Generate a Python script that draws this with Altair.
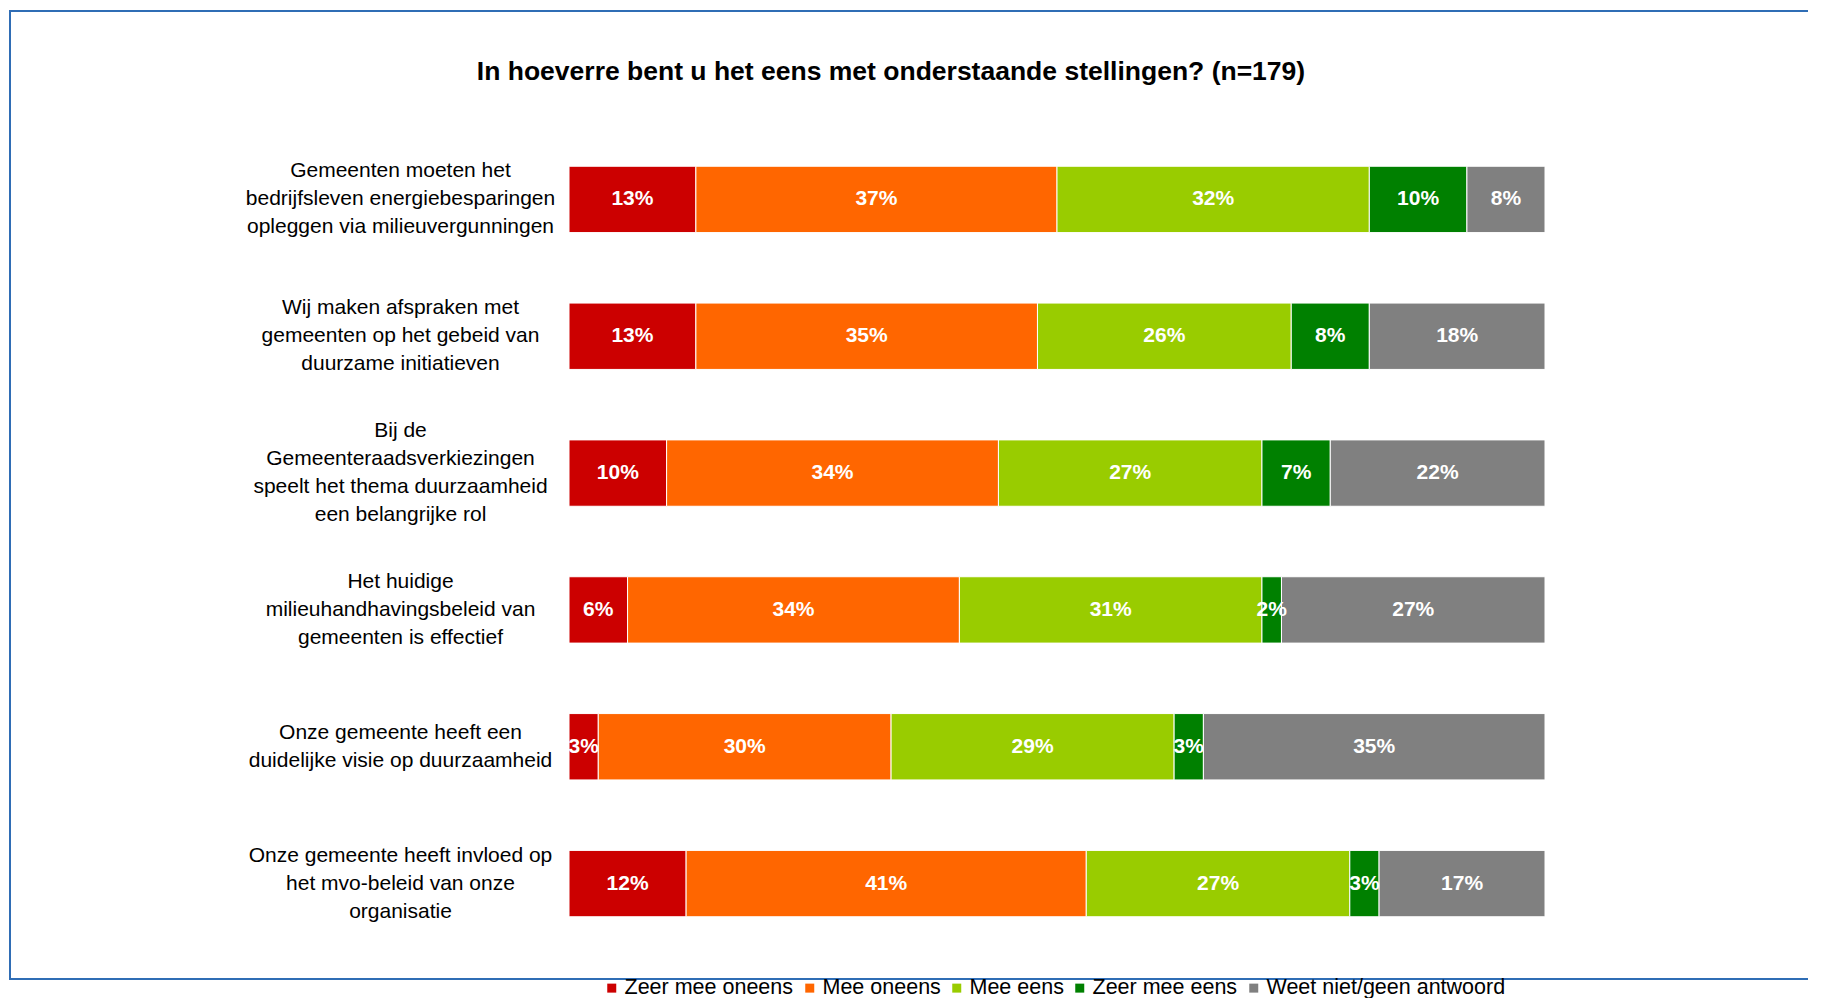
import altair as alt
import pandas as pd

# ---- data ----
statements = [
    "Gemeenten moeten het|bedrijfsleven energiebesparingen|opleggen via milieuvergunningen",
    "Wij maken afspraken met|gemeenten op het gebeid van|duurzame initiatieven",
    "Bij de|Gemeenteraadsverkiezingen|speelt het thema duurzaamheid|een belangrijke rol",
    "Het huidige|milieuhandhavingsbeleid van|gemeenten is effectief",
    "Onze gemeente heeft een|duidelijke visie op duurzaamheid",
    "Onze gemeente heeft invloed op|het mvo-beleid van onze|organisatie",
]
categories = ["Zeer mee oneens", "Mee oneens", "Mee eens", "Zeer mee eens", "Weet niet/geen antwoord"]
colors = ["#CC0000", "#FF6600", "#99CC00", "#008000", "#808080"]

zeer_mee_oneens = [13, 13, 10, 6, 3, 12]
mee_oneens = [37, 35, 34, 34, 30, 41]
mee_eens = [32, 26, 27, 31, 29, 27]
zeer_mee_eens = [10, 8, 7, 2, 3, 3]
weet_niet = [8, 18, 22, 27, 35, 17]

series = [zeer_mee_oneens, mee_oneens, mee_eens, zeer_mee_eens, weet_niet]

rows = []
for ci, (cat, vals) in enumerate(zip(categories, series)):
    for si, st in enumerate(statements):
        rows.append({"statement": st, "category": cat, "idx": ci, "value": vals[si]})
df = pd.DataFrame(rows)

FONT = "Liberation Sans"
LINE_H = 28

# shift multi-line labels up so each block is centred on its bar
label_offset = {
    "condition": [
        {"test": "length(split(datum.value, '|')) == 4", "value": -1.5 * LINE_H},
        {"test": "length(split(datum.value, '|')) == 2", "value": -0.5 * LINE_H},
    ],
    "value": -1.0 * LINE_H,
}

y_enc = alt.Y(
    "statement:N",
    sort=statements,
    scale=alt.Scale(paddingInner=0.515, paddingOuter=0.2575),
    axis=alt.Axis(
        title=None,
        domain=False,
        ticks=False,
        tickSize=0,
        labelExpr="split(datum.label, '|')",
        labelAlign="center",
        labelBaseline="middle",
        labelPadding=169,
        labelOffset=label_offset,
        labelFont=FONT,
        labelFontSize=21,
        labelLineHeight=LINE_H,
        labelColor="#000000",
        labelLimit=600,
    ),
)

base = alt.Chart(df)

bars = base.mark_bar(stroke="white", strokeWidth=1).encode(
    x=alt.X("value:Q", stack="zero", scale=alt.Scale(domain=[0, 100]), axis=None),
    y=y_enc,
    color=alt.Color(
        "category:N",
        sort=categories,
        scale=alt.Scale(domain=categories, range=colors),
        legend=alt.Legend(
            title=None,
            orient="none",
            legendX=32,
            legendY=846,
            direction="horizontal",
            symbolType="square",
            symbolSize=81,
            symbolStrokeWidth=0,
            labelFont=FONT,
            labelFontSize=21.5,
            labelColor="#000000",
            labelOffset=2,
            columnPadding=5,
            labelLimit=400,
            padding=0,
        ),
    ),
    order=alt.Order("idx:Q"),
)

labels = base.transform_window(
    cum="sum(value)", groupby=["statement"], sort=[alt.SortField("idx")], frame=[None, 0]
).transform_calculate(
    mid="datum.cum - datum.value / 2", label="datum.value + '%'"
).mark_text(
    color="white", font=FONT, fontWeight="bold", fontSize=21, align="center", baseline="middle"
).encode(
    x=alt.X("mid:Q", scale=alt.Scale(domain=[0, 100]), axis=None),
    y=alt.Y("statement:N", sort=statements),
    text="label:N",
)

frame = alt.Chart(pd.DataFrame({"frame": [1]})).mark_rect(
    filled=False, stroke="#2F6DB5", strokeWidth=2
).encode(
    x=alt.value(-559), x2=alt.value(1300), y=alt.value(-120), y2=alt.value(848)
)

chart = alt.layer(frame, bars, labels).properties(
    width=976,
    height=821,
    padding={"left": 561, "top": 123, "right": 263, "bottom": 46},
    autosize=alt.AutoSizeParams(type="none"),
    background="white",
    title=alt.TitleParams(
        text="In hoeverre bent u het eens met onderstaande stellingen? (n=179)",
        font=FONT,
        fontSize=26.5,
        fontWeight="bold",
        color="#000000",
        anchor="middle",
        frame="group",
        dx=-166,
        offset=-96,
        baseline="alphabetic",
    ),
).configure_view(stroke="transparent", strokeWidth=0)

chart.save("out.html", embed_options={"renderer": "svg", "actions": False})
